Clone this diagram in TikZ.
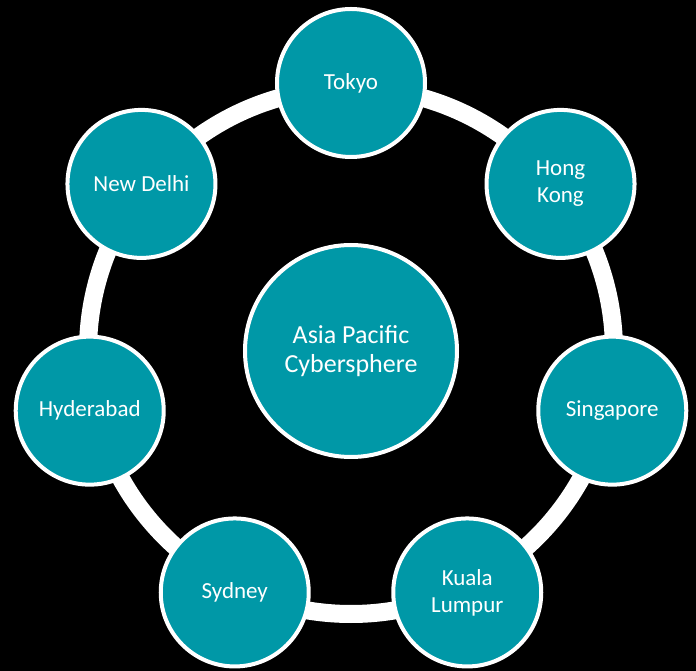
\documentclass[tikz,border=0pt]{standalone}
\usepackage{fontspec}
\setmainfont{Carlito}
\definecolor{cyteal}{RGB}{0,152,167}
\begin{document}
\begin{tikzpicture}[x=1pt,y=1pt,
  city/.style={circle,fill=cyteal,draw=white,line width=4pt,minimum size=148pt,inner sep=0pt,align=center,text=white,font=\fontsize{23}{27}\selectfont},
  hub/.style={city,minimum size=212pt,font=\fontsize{26}{29}\selectfont}]
\fill[black] (-351,-320) rectangle (345,351);
\node[hub] (apc) at (0,0) {Asia Pacific\\Cybersphere};
\draw[white,line width=18pt] (apc.center) circle[radius=263pt];
\foreach \a/\n/\t in {90/tokyo/Tokyo, 38.57/hongkong/{Hong\\Kong}, -12.86/singapore/Singapore, -64.29/kl/{Kuala\\Lumpur}, -115.71/sydney/Sydney, -167.14/hyderabad/Hyderabad, 141.43/newdelhi/New Delhi}
  { \node[city] (\n) at (\a:268pt) {\t}; };
\end{tikzpicture}
\end{document}
